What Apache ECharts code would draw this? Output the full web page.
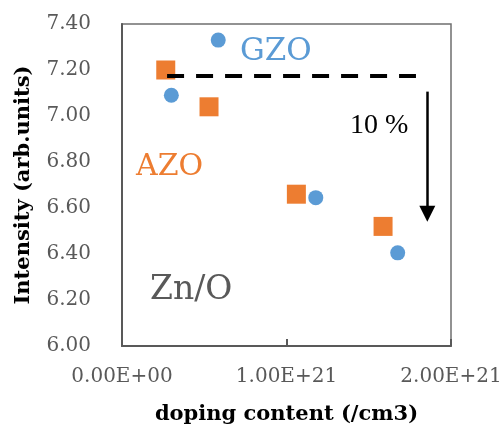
<!DOCTYPE html>
<html>
<head>
<meta charset="utf-8">
<script src="https://cdn.jsdelivr.net/npm/echarts@6/dist/echarts.min.js"></script>
<style>
  html, body { margin: 0; padding: 0; background: #fff; }
  #chart { width: 504px; height: 427px; }
</style>
</head>
<body>
<div id="chart"></div>
<script>
// Doping concentration (/cm3) and Zn/O intensity for the two films
const gzoDoping = [0.30e21, 0.585e21, 1.178e21, 1.676e21];
const gzoIntensity = [7.09, 7.33, 6.645, 6.405];
const azoDoping = [0.266e21, 0.529e21, 1.06e21, 1.587e21];
const azoIntensity = [7.20, 7.04, 6.66, 6.52];

// Reference level (dashed) and the 10 % drop arrow, in data units
const refLevel = 7.173;
const refSpan = [0.274e21, 1.787e21];
const dropX = 1.856e21;
const dropRange = [7.106, 6.575];

// Axis tick labels
const xTickLabels = ['0.00E+00', '1.00E+21', '2.00E+21'];
const yTicks = ['6.00', '6.20', '6.40', '6.60', '6.80', '7.00', '7.20', '7.40'];

const BLUE = '#5B9BD5';
const ORANGE = '#ED7D31';
const GRAY = '#595959';
const SERIF = '"DejaVu Serif", "Liberation Serif", serif';

const pairs = (xs, ys) => xs.map((x, i) => [x, ys[i]]);

const chart = echarts.init(document.getElementById('chart'), null, { renderer: 'canvas' });

chart.setOption({
  animation: false,
  grid: {
    left: 122, right: 53, top: 24, bottom: 81,
    containLabel: false,
    outerBoundsMode: 'none',
    show: true,
    borderColor: '#6f6f6f',
    borderWidth: 1.5,
    backgroundColor: 'transparent'
  },
  xAxis: {
    type: 'value',
    min: 0, max: 2e21, interval: 1e21,
    name: 'doping content (/cm3)',
    nameLocation: 'middle',
    nameGap: 58,
    nameTextStyle: { fontFamily: SERIF, fontWeight: 'bold', fontSize: 21, color: '#000' },
    axisLine: { show: true, onZero: false, lineStyle: { color: GRAY, width: 2 } },
    axisTick: { show: true, inside: true, length: 7, lineStyle: { color: GRAY, width: 2 } },
    splitLine: { show: false },
    axisLabel: {
      margin: 21,
      fontFamily: SERIF, fontSize: 20, color: GRAY,
      formatter: (v) => xTickLabels[Math.round(v / 1e21)]
    }
  },
  yAxis: {
    type: 'value',
    min: 6, max: 7.4, interval: 0.2,
    name: 'Intensity (arb.units)',
    nameLocation: 'middle',
    nameGap: 88,
    nameTextStyle: { fontFamily: SERIF, fontWeight: 'bold', fontSize: 21, color: '#000' },
    axisLine: { show: true, onZero: false, lineStyle: { color: GRAY, width: 2 } },
    axisTick: { show: false },
    splitLine: { show: false },
    axisLabel: {
      margin: 31,
      fontFamily: SERIF, fontSize: 20, color: GRAY,
      formatter: (v) => yTicks[Math.round((v - 6) / 0.2)]
    }
  },
  series: [
    {
      name: 'AZO',
      type: 'scatter',
      symbol: 'rect',
      symbolSize: 19,
      itemStyle: { color: ORANGE, opacity: 1 },
      data: pairs(azoDoping, azoIntensity),
      markLine: {
        silent: true,
        symbol: ['none', 'none'],
        label: { show: false },
        lineStyle: { color: '#000', type: [17, 12], width: 4, opacity: 1 },
        data: [[
          { coord: [refSpan[0], refLevel] },
          { coord: [refSpan[1], refLevel] }
        ]]
      }
    },
    {
      name: 'GZO',
      type: 'scatter',
      symbol: 'circle',
      symbolSize: 15,
      itemStyle: { color: BLUE, opacity: 1 },
      data: pairs(gzoDoping, gzoIntensity),
      markLine: {
        silent: true,
        symbol: ['none', 'triangle'],
        symbolSize: [16, 16],
        symbolRotate: 180,
        label: { show: false },
        lineStyle: { color: '#000', type: 'solid', width: 2.5, opacity: 1 },
        data: [[
          { coord: [dropX, dropRange[0]] },
          { coord: [dropX, dropRange[1]] }
        ]]
      }
    }
  ],
  graphic: [
    { type: 'text', left: 240, top: 36, style: { text: 'GZO', fill: BLUE, font: '31px ' + SERIF } },
    { type: 'text', left: 136, top: 152, style: { text: 'AZO', fill: ORANGE, font: '30px ' + SERIF } },
    { type: 'text', left: 150, top: 274, style: { text: 'Zn/O', fill: GRAY, font: '33px ' + SERIF } },
    { type: 'text', left: 350, top: 112, style: { text: '10 %', fill: '#000', font: '28px "Liberation Serif", serif' } }
  ]
});
</script>
</body>
</html>
